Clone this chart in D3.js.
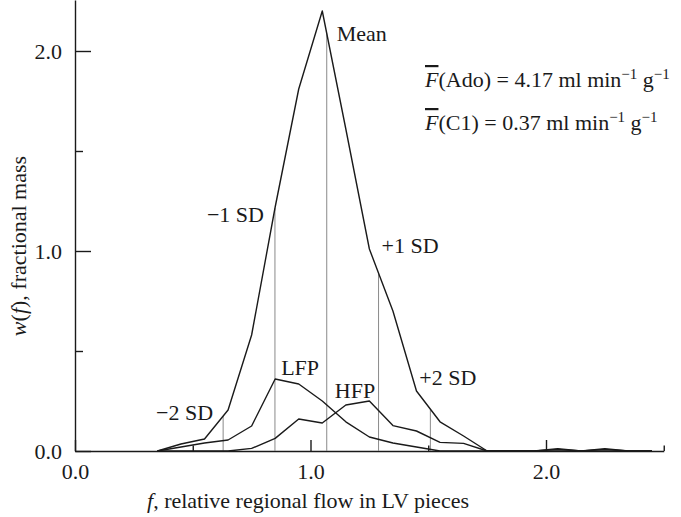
<!DOCTYPE html>
<html>
<head>
<meta charset="utf-8">
<script src="https://cdn.jsdelivr.net/npm/d3@7"></script>
<style>
  body { margin: 0; background: #fff; }
  text { font-family: "Liberation Serif", "DejaVu Serif", serif; fill: #1a1a1a; }
</style>
</head>
<body>
<script>
// bin centres of relative flow f
var flowBins = [0.35, 0.45, 0.55, 0.65, 0.75, 0.85, 0.95, 1.05, 1.15, 1.25, 1.35,
                1.45, 1.55, 1.65, 1.75, 1.85, 1.95, 2.05, 2.15, 2.25, 2.35, 2.45];
// fractional mass w(f), all pieces
var totalMass = [0, 0.035, 0.06, 0.205, 0.58, 1.22, 1.81, 2.20, 1.61, 1.01, 0.70,
                 0.30, 0.146, 0.075, 0, 0, 0, 0.012, 0, 0.012, 0, 0];
// low flow pieces
var lfpMass = [0, 0.02, 0.04, 0.055, 0.125, 0.36, 0.335, 0.25, 0.146, 0.07, 0.04,
               0.02, 0, 0, 0, 0, 0, 0, 0, 0, 0, 0];
// high flow pieces
var hfpMass = [0, 0, 0, 0, 0.013, 0.063, 0.16, 0.14, 0.23, 0.25, 0.127,
               0.10, 0.043, 0.038, 0, 0, 0, 0.008, 0, 0.008, 0, 0];
// mean and +-1, +-2 SD of f
var sdMarks = [0.629, 0.849, 1.069, 1.289, 1.509];
var xMajor = [0, 1, 2];
var xMinor = [0.5, 1.5, 2.5];
var yMajor = [0, 1, 2];
var yMinor = [0.5, 1.5];

var w = 681, h = 517;
var fs = "22px";

var svg = d3.select("body").append("svg")
  .attr("width", w)
  .attr("height", h);

var x = d3.scaleLinear().domain([0, 2.5]).range([75, 663.75]);
var y = d3.scaleLinear().domain([0, 2.255]).range([451, 0]);

//axes: ticks point inward, minor ones shorter
function styleAxis(g) {
  g.selectAll("path, line").attr("stroke", "#1a1a1a").attr("stroke-width", 1.4);
  g.selectAll("text").style("font-size", fs).attr("fill", "#1a1a1a")
    .style("font-family", "'Liberation Serif', serif");
}

svg.append("g").attr("transform", "translate(0," + y(0) + ")")
  .call(d3.axisBottom(x).tickValues(xMinor).tickSize(-5.5).tickSizeOuter(0).tickFormat(""))
  .call(styleAxis);
svg.append("g").attr("transform", "translate(0," + y(0) + ")")
  .call(d3.axisBottom(x).tickValues(xMajor).tickSize(-11).tickSizeOuter(0)
    .tickPadding(12).tickFormat(d3.format(".1f")))
  .call(styleAxis)
  .call(function(g) { g.select(".domain").remove(); });

svg.append("g").attr("transform", "translate(" + x(0) + ",0)")
  .call(d3.axisLeft(y).tickValues(yMinor).tickSize(-8).tickSizeOuter(0).tickFormat(""))
  .call(styleAxis);
svg.append("g").attr("transform", "translate(" + x(0) + ",0)")
  .call(d3.axisLeft(y).tickValues(yMajor).tickSize(-16).tickSizeOuter(0)
    .tickPadding(13).tickFormat(d3.format(".1f")))
  .call(styleAxis)
  .call(function(g) { g.select(".domain").remove(); });

// vertical mean / SD lines up to the total curve
function totalAt(f) {
  return d3.scaleLinear().domain(flowBins).range(totalMass)(f);
}
svg.selectAll(".sd").data(sdMarks).enter().append("line")
  .attr("class", "sd")
  .attr("x1", function(d) { return x(d); })
  .attr("x2", function(d) { return x(d); })
  .attr("y1", y(0))
  .attr("y2", function(d) { return y(totalAt(d)); })
  .attr("stroke", "#8a8a8a")
  .attr("stroke-width", 1);

var line = d3.line()
  .x(function(d, i) { return x(flowBins[i]); })
  .y(function(d) { return y(d); });

[totalMass, lfpMass, hfpMass].forEach(function(s) {
  svg.append("path")
    .attr("d", line(s))
    .attr("fill", "none")
    .attr("stroke", "#1a1a1a")
    .attr("stroke-width", 1.4)
    .attr("stroke-linejoin", "round");
});

// curve labels
function label(txt, px, py, anchor) {
  svg.append("text").attr("x", px).attr("y", py)
    .attr("text-anchor", anchor || "start")
    .style("font-size", fs)
    .text(txt);
}
label("Mean", x(sdMarks[2]) + 10, 41);
label("\u22121 SD", x(sdMarks[1]) - 11, 222, "end");
label("+1 SD", x(sdMarks[3]) + 3, 253);
label("\u22122 SD", x(sdMarks[0]) - 10, 420, "end");
label("+2 SD", x(sdMarks[4]) - 11, 385);
label("LFP", x(0.85) + 6, 375);
label("HFP", x(1.15) - 11, 398);

// flow annotations
function flowNote(py, name, val) {
  var t = svg.append("text").attr("x", 425).attr("y", py).style("font-size", fs);
  t.append("tspan").style("font-style", "italic").style("text-decoration", "overline").text("F");
  t.append("tspan").text("(" + name + ") = " + val + " ml min");
  t.append("tspan").attr("dy", -8).style("font-size", "15px").text("\u22121");
  t.append("tspan").attr("dy", 8).text(" g");
  t.append("tspan").attr("dy", -8).style("font-size", "15px").text("\u22121");
}
flowNote(87, "Ado", "4.17");
flowNote(130, "C1", "0.37");

// axis titles
var xt = svg.append("text").attr("x", 308).attr("y", 508)
  .attr("text-anchor", "middle").style("font-size", fs);
xt.append("tspan").style("font-style", "italic").text("f");
xt.append("tspan").text(", relative regional flow in LV pieces");

var yt = svg.append("text")
  .attr("transform", "translate(26,246) rotate(-90)")
  .attr("text-anchor", "middle").style("font-size", fs);
yt.append("tspan").style("font-style", "italic").text("w");
yt.append("tspan").text("(");
yt.append("tspan").style("font-style", "italic").text("f");
yt.append("tspan").text("), fractional mass");
</script>
</body>
</html>
